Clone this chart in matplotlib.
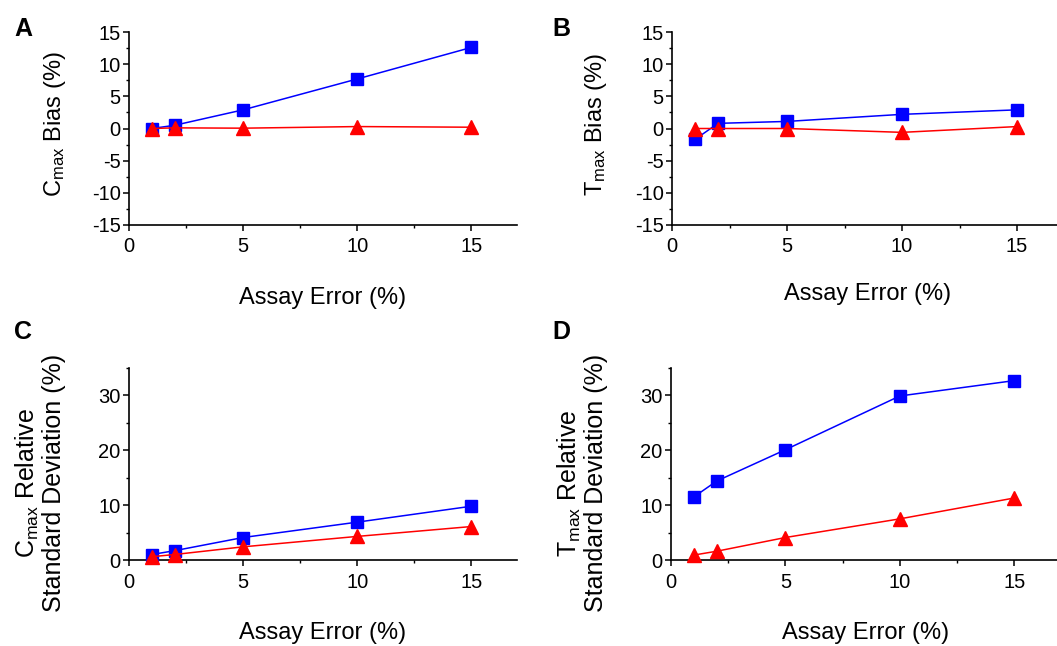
import matplotlib
matplotlib.use("Agg")
from matplotlib import pyplot as plt
from matplotlib.ticker import MultipleLocator

plt.rcParams['font.family'] = ['Liberation Sans', 'DejaVu Sans']
plt.rcParams['mathtext.fontset'] = 'custom'
plt.rcParams['mathtext.rm'] = 'Liberation Sans'
plt.rcParams['mathtext.it'] = 'Liberation Sans:italic'
plt.rcParams['axes.unicode_minus'] = False

# assay error levels (%)
assay_err = [1, 2, 5, 10, 15]

# A: Cmax bias
cmax_bias_blue = [0.0, 0.5, 2.9, 7.7, 12.6]
cmax_bias_red = [0.0, 0.1, 0.05, 0.3, 0.2]
# B: Tmax bias
tmax_bias_blue = [-1.7, 0.8, 1.1, 2.2, 2.9]
tmax_bias_red = [0.0, 0.0, 0.0, -0.6, 0.3]
# C: Cmax relative SD
cmax_rsd_blue = [1.0, 1.7, 4.1, 6.9, 9.8]
cmax_rsd_red = [0.6, 1.0, 2.4, 4.3, 6.1]
# D: Tmax relative SD
tmax_rsd_blue = [11.5, 14.4, 20.1, 29.9, 32.7]
tmax_rsd_red = [0.9, 1.6, 4.1, 7.5, 11.3]

xlabel = "Assay Error (%)"
ylabels = [r"C$_{\mathrm{max}}$ Bias (%)",
           r"T$_{\mathrm{max}}$ Bias (%)",
           "C$_{\\mathrm{max}}$ Relative\nStandard Deviation (%)",
           "T$_{\\mathrm{max}}$ Relative\nStandard Deviation (%)"]
letters = ["A", "B", "C", "D"]

W, H = 1057, 646
fig = plt.figure(figsize=(W / 100, H / 100), dpi=100)


def box(l, r, t, b):
    return [l / W, 1 - b / H, (r - l) / W, (b - t) / H]


axA = fig.add_axes(box(129, 517, 32, 225))
axB = fig.add_axes(box(672, 1063, 32, 225))
axC = fig.add_axes(box(129, 517, 368, 560))
axD = fig.add_axes(box(671, 1060, 368, 560))

series = [(axA, cmax_bias_blue, cmax_bias_red),
          (axB, tmax_bias_blue, tmax_bias_red),
          (axC, cmax_rsd_blue, cmax_rsd_red),
          (axD, tmax_rsd_blue, tmax_rsd_red)]

for i, (ax, blue, red) in enumerate(series):
    ax.plot(assay_err, blue, color='#0000ff', lw=1.1, marker='s', ms=8.5,
            clip_on=False, zorder=3)
    ax.plot(assay_err, red, color='#ff0000', lw=1.1, marker='^', ms=10,
            clip_on=False, zorder=3)
    ax.set_xlim(0, 17)
    ax.xaxis.set_major_locator(MultipleLocator(5))
    ax.xaxis.set_minor_locator(MultipleLocator(2.5))
    if i < 2:
        ax.set_ylim(-15, 15)
        ax.yaxis.set_major_locator(MultipleLocator(5))
        ax.yaxis.set_minor_locator(MultipleLocator(2.5))
    else:
        ax.set_ylim(0, 35)
        ax.yaxis.set_major_locator(MultipleLocator(10))
        ax.yaxis.set_minor_locator(MultipleLocator(5))
    for s in ['top', 'right']:
        ax.spines[s].set_visible(False)
    for s in ['left', 'bottom']:
        ax.spines[s].set_linewidth(1.2)
    ax.tick_params(which='major', direction='out', length=4, width=1.1,
                   labelsize=14.5, pad=2)
    ax.tick_params(axis='x', which='major', pad=5)
    ax.tick_params(which='minor', direction='out', length=2.5, width=1.0)
    ax.set_xlabel(xlabel, fontsize=17, va='center')
    ax.set_ylabel(ylabels[i], fontsize=17 if i < 2 else 18, va='center',
                  ha='center', linespacing=1.05)

axA.xaxis.set_label_coords(0.5, -0.378)
axB.xaxis.set_label_coords(0.5, -0.36)
axC.xaxis.set_label_coords(0.5, -0.38)
axD.xaxis.set_label_coords(0.5, -0.38)
axA.yaxis.set_label_coords(-0.19, 0.52)
axB.yaxis.set_label_coords(-0.194, 0.52)
axC.yaxis.set_label_coords(-0.229, 0.40)
axD.yaxis.set_label_coords(-0.229, 0.40)

letter_pos = [(23, 29), (561, 29), (23, 332), (561, 332)]
for L, (px, py) in zip(letters, letter_pos):
    fig.text(px / W, 1 - py / H, L, fontsize=18, fontweight='bold',
             ha='center', va='center')

fig.savefig("out.png", dpi=100)
